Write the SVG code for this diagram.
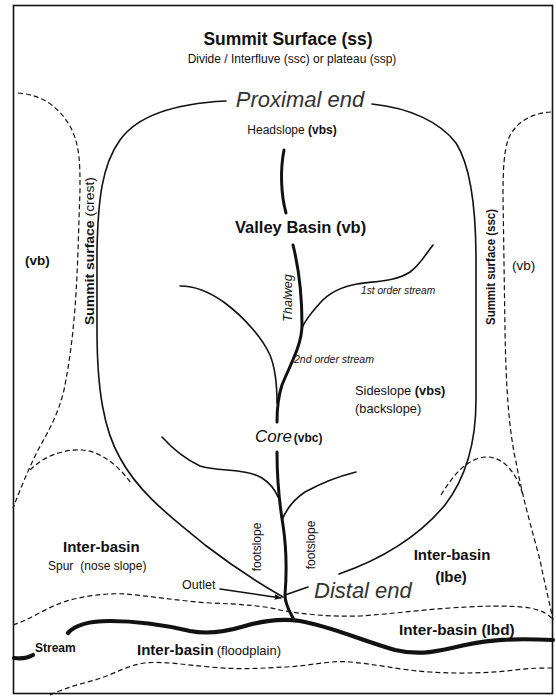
<svg xmlns="http://www.w3.org/2000/svg" width="556" height="697" viewBox="0 0 556 697">
<style>
text{font-family:"Liberation Sans",Arial,sans-serif;fill:#111}
.b{font-weight:bold}
.i{font-style:italic}
.lt{fill:#333}
.sol{fill:none;stroke:#111;stroke-width:1.6;stroke-linecap:round;stroke-linejoin:round}
.dash{fill:none;stroke:#111;stroke-width:1.2;stroke-dasharray:5 3}
.thk{fill:none;stroke:#111;stroke-width:3;stroke-linecap:round}
.strm{fill:none;stroke:#111;stroke-width:4.2;stroke-linecap:round}
</style>
<defs>
<marker id="arr" viewBox="0 0 10 10" refX="9" refY="5" markerWidth="7" markerHeight="7" orient="auto" markerUnits="userSpaceOnUse">
<path d="M0,1 L10,5 L0,9 z" fill="#111"/>
</marker>
</defs>
<rect x="0" y="0" width="556" height="697" fill="#fff"/>
<rect x="13.5" y="5.5" width="539" height="688" fill="none" stroke="#111" stroke-width="1.6"/>

<g id="connectors">
<path id="outline-left" class="sol" d="M226,101 C185,103 140,112 120,140 C102,165 98,200 97,250 L97,330 C97,390 104,430 120,458 C140,495 175,520 205,545 C235,568 262,585 283,597"/>
<path id="outline-right" class="sol" d="M372,104 C410,108 440,122 456,143 C470,165 476,205 476,260 L476,400 C476,440 468,475 445,505 C420,535 385,558 339,574"/>
<path id="crest-left" class="dash" d="M18,93 C45,95 62,110 72,130 C80,148 80,165 80,190 L78,250 C76,310 72,350 64,390 C58,415 48,432 38,450 C28,470 20,490 13,508"/>
<path id="arc-left" class="dash" d="M30,470 C45,455 65,449 82,450 C100,451 118,465 131,483"/>
<path id="crest-right" class="dash" d="M551,112 C530,113 514,124 508,140 C504,152 503,170 503,195 L505,330 C506,390 509,430 516,462 C522,495 532,530 540,560 C545,585 550,605 553,620"/>
<path id="arc-right" class="dash" d="M441,495 C455,472 468,459 485,457 C500,456 515,468 523,495"/>
<path id="lower-upper-dash" class="dash" d="M13,625 C30,620 50,605 70,600 C90,595 110,593 125,594 C150,596 180,601 210,603 C240,604 265,606 280,610 C300,614 330,617 360,616 C390,614 420,610 450,608 C480,606 510,605 530,608 C545,611 550,616 553,620"/>
<path id="lower-dash" class="dash" d="M50,695 C65,688 80,684 95,680 C115,674 125,666 145,663 C165,661 185,665 210,667 C240,670 265,668 285,667 C310,666 330,660 350,662 C375,664 400,670 430,672 C460,674 490,673 515,670 C530,668 545,668 553,668"/>
<path id="stream-main" class="strm" d="M68,633 C75,625 90,621 110,621 C135,621 160,624 190,631 C205,634 225,632 245,626 C262,621 280,618 300,621 C330,626 360,640 395,650 C420,656 440,651 465,645 C490,640 510,638 553,640"/>
<path id="stream-left" class="strm" d="M14,658 C22,659 28,658 33,655"/>
<path id="thalweg-top" class="thk" d="M284,150 C280,170 281,195 286,213"/>
<path id="thalweg-mid" class="thk" d="M293,245 C298,265 302,295 302,325 C302,345 290,365 282,385 C278,397 277,410 277,422"/>
<path id="thalweg-low" class="thk" d="M277,452 C277,475 278,495 283,525 C286,545 287,570 285,595 C285,605 290,612 294,620"/>
<path id="trib-ul" class="sol" d="M180,286 C195,286 210,292 225,303 C245,318 262,338 270,355 C276,370 277,390 277,403"/>
<path id="trib-ur" class="sol" d="M302,328 C306,318 314,310 320,303 C328,294 340,287 357,284 C375,281 395,282 410,272 C420,265 425,255 433,245"/>
<path id="trib-ll" class="sol" d="M162,437 C172,448 183,458 200,466 C220,472 245,468 262,478 C270,483 275,490 278,497"/>
<path id="trib-lr" class="sol" d="M356,472 C340,476 325,481 305,492 C293,500 286,510 282,520"/>
<path id="outlet-arrow" class="sol" stroke-width="1.3" d="M220,589 L281,598" marker-end="url(#arr)"/>
<path id="distal-tick" class="sol" stroke-width="1.3" d="M285,595 L308,587"/>
</g>

<g id="summit">
<text class="b" x="288" y="45" font-size="17.5" text-anchor="middle">Summit Surface (ss)</text>
<text x="292" y="63" font-size="12" text-anchor="middle">Divide / Interfluve (ssc) or plateau (ssp)</text>
</g>
<g id="proximal"><text class="i lt" x="300" y="107" font-size="22" text-anchor="middle">Proximal end</text></g>
<g id="headslope"><text x="292" y="134" font-size="12" text-anchor="middle">Headslope <tspan class="b">(vbs)</tspan></text></g>
<g id="valley-basin"><text class="b" x="235" y="233" font-size="16.5">Valley Basin (vb)</text></g>
<g id="thalweg"><text class="i" transform="translate(287,298) rotate(-90)" y="4.5" font-size="12.5" text-anchor="middle">Thalweg</text></g>
<g id="first-order"><text class="i" x="361" y="294" font-size="10.2">1st order stream</text></g>
<g id="second-order"><text class="i" x="294" y="363" font-size="10.5">2nd order stream</text></g>
<g id="sideslope">
<text x="355" y="395" font-size="12.8">Sideslope <tspan class="b">(vbs)</tspan></text>
<text x="355" y="413" font-size="12.8">(backslope)</text>
</g>
<g id="core"><text x="255" y="442"><tspan class="i" font-size="17">Core</tspan><tspan class="b" font-size="12" dx="2">(vbc)</tspan></text></g>
<g id="crest-label"><text transform="translate(89,251) rotate(-90)" y="4.5" font-size="12.5" text-anchor="middle" textLength="148" lengthAdjust="spacingAndGlyphs"><tspan class="b">Summit surface </tspan>(crest)</text></g>
<g id="ssc-label"><text class="b" transform="translate(490,267) rotate(-90)" y="4.5" font-size="12" text-anchor="middle" textLength="116" lengthAdjust="spacingAndGlyphs">Summit surface (ssc)</text></g>
<g id="vb-left"><text class="b" x="25" y="265" font-size="13.5">(vb)</text></g>
<g id="vb-right"><text x="512" y="270" font-size="13.5">(vb)</text></g>
<g id="footslope-l"><text transform="translate(257,547) rotate(-90)" y="4" font-size="12" text-anchor="middle">footslope</text></g>
<g id="footslope-r"><text transform="translate(311,545) rotate(-90)" y="4" font-size="12" text-anchor="middle">footslope</text></g>
<g id="interbasin-spur">
<text class="b" x="63" y="552" font-size="15">Inter-basin</text>
<text x="48" y="570" font-size="12">Spur<tspan dx="7">(nose slope)</tspan></text>
</g>
<g id="interbasin-ibe">
<text class="b" x="452" y="560" font-size="15" text-anchor="middle">Inter-basin</text>
<text class="b" x="451" y="582" font-size="15" text-anchor="middle">(Ibe)</text>
</g>
<g id="outlet"><text x="182" y="589" font-size="12.5">Outlet</text></g>
<g id="distal"><text class="i lt" x="314" y="598" font-size="22">Distal end</text></g>
<g id="interbasin-ibd"><text class="b" x="399" y="635" font-size="15.3">Inter-basin (Ibd)</text></g>
<g id="interbasin-flood"><text x="137" y="655"><tspan class="b" font-size="15">Inter-basin</tspan><tspan font-size="13" dx="3">(floodplain)</tspan></text></g>
<g id="stream"><text class="b" x="35" y="652" font-size="12">Stream</text></g>
</svg>
